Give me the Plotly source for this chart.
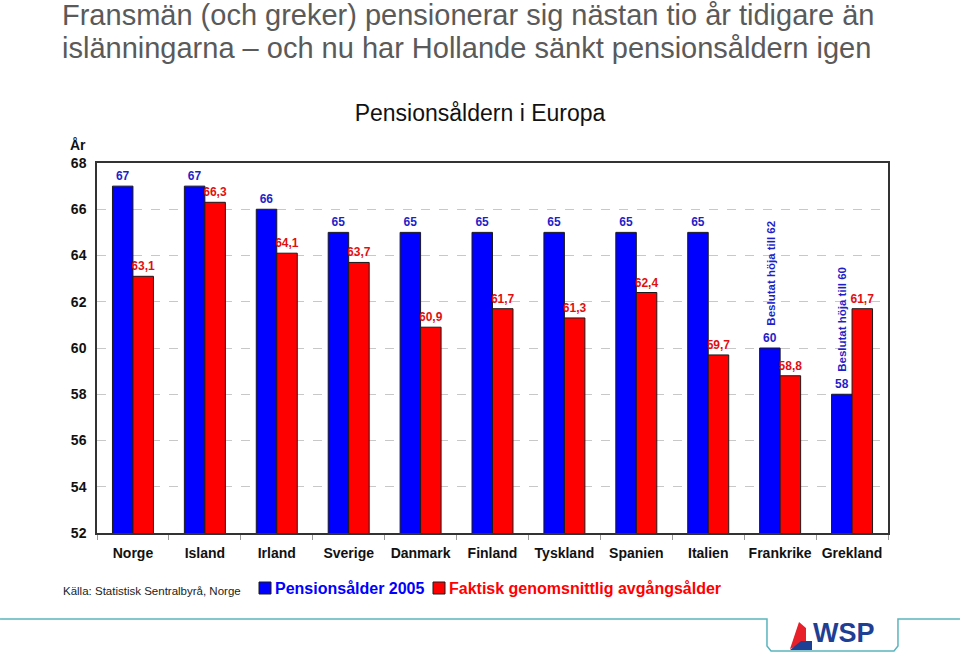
import plotly.graph_objects as go

countries = ["Norge", "Island", "Irland", "Sverige", "Danmark", "Finland",
             "Tyskland", "Spanien", "Italien", "Frankrike", "Grekland"]
pension_2005 = [67, 67, 66, 65, 65, 65, 65, 65, 65, 60, 58]
actual_exit = [63.1, 66.3, 64.1, 63.7, 60.9, 61.7, 61.3, 62.4, 59.7, 58.8, 61.7]
y_ticks = [52, 54, 56, 58, 60, 62, 64, 66, 68]
notes = {"Frankrike": ("Beslutat höja till 62", 60), "Grekland": ("Beslutat höja till 60", 58)}
heading_lines = ["Fransmän (och greker) pensionerar sig nästan tio år tidigare än",
                 "islänningarna – och nu har Hollande sänkt pensionsåldern igen"]
series_names = ["Pensionsålder 2005", "Faktisk genomsnittlig avgångsålder"]

def fmt(v):
    return (f"{v:g}").replace(".", ",")

BLUE = "#0000FF"
RED = "#FF0000"
LBL_BLUE = "#1f1fc8"
LBL_RED = "#e01010"
FONT = "Liberation Sans, Arial, sans-serif"

# plot area geometry in pixels (for placing paper-referenced decorations)
W, H = 960, 659
L, R, T, B = 97, 72, 163, 126
PW, PH = W - L - R, H - T - B

def px(xp):
    return (xp - L) / PW

def py(yp):
    return (H - B - yp) / PH

fig = go.Figure()
fig.add_trace(go.Bar(
    x=countries, y=pension_2005, name=series_names[0],
    marker=dict(color=BLUE, line=dict(color="#1a1a1a", width=1)),
    text=[fmt(v) for v in pension_2005], textposition="outside", constraintext="none",
    textfont=dict(color=LBL_BLUE, size=12, family=FONT, weight="bold"),
    cliponaxis=False,
))
fig.add_trace(go.Bar(
    x=countries, y=actual_exit, name=series_names[1],
    marker=dict(color=RED, line=dict(color="#1a1a1a", width=1)),
    text=[fmt(v) for v in actual_exit], textposition="outside", constraintext="none",
    textfont=dict(color=LBL_RED, size=12, family=FONT, weight="bold"),
    cliponaxis=False,
))

annotations = []
for c, (txt, v) in notes.items():
    annotations.append(dict(x=c, y=v, xref="x", yref="y", text=f"<b>{txt}</b>",
                            textangle=-90, showarrow=False, xshift=-10, yshift=20,
                            yanchor="bottom", xanchor="center",
                            font=dict(color=LBL_BLUE, size=11.5, family=FONT)))

for i, line in enumerate(heading_lines):
    annotations.append(dict(
        xref="paper", yref="paper", x=px(60), y=py(15 + 33 * i), xanchor="left",
        yanchor="middle", text=line, showarrow=False, align="left",
        font=dict(size=29, color="#5a5a5a", family=FONT)))
annotations.append(dict(
    xref="paper", yref="paper", x=px(88), y=py(145), xanchor="right", yanchor="middle",
    text="<b>År</b>", showarrow=False, font=dict(size=14, color="#111", family=FONT)))
annotations.append(dict(
    xref="paper", yref="paper", x=px(61), y=py(591), xanchor="left", yanchor="middle",
    text="Källa: Statistisk Sentralbyrå, Norge", showarrow=False,
    font=dict(size=11.5, color="#222", family=FONT)))
annotations.append(dict(
    xref="paper", yref="paper", x=px(811), y=py(633), xanchor="left", yanchor="middle",
    text="<b>WSP</b>", showarrow=False,
    font=dict(size=27, color="#1d3f94", family=FONT)))

# legend entries (square + coloured bold text)
legend_items = [(series_names[0], BLUE, 259), (series_names[1], RED, 433)]
shapes = []
for name, col, x0 in legend_items:
    shapes.append(dict(type="rect", xref="paper", yref="paper",
                       x0=px(x0), x1=px(x0 + 12), y0=py(594), y1=py(582),
                       fillcolor=col, line=dict(color="#1a1a1a", width=1)))
    annotations.append(dict(xref="paper", yref="paper", x=px(x0 + 14), y=py(588),
                            xanchor="left", yanchor="middle", text=f"<b>{name}</b>",
                            showarrow=False, font=dict(size=16, color=col, family=FONT)))

def pth(points, close=False):
    s = " ".join(("M" if i == 0 else "L") + f" {px(x):.4f},{py(y):.4f}"
                 for i, (x, y) in enumerate(points))
    return s + (" Z" if close else "")

shapes += [
    dict(type="path", xref="paper", yref="paper",
         path=pth([(0, 619), (767, 619), (767, 646), (771, 651), (894, 651),
                   (898, 646), (898, 619), (960, 619)]),
         line=dict(color="#5ab4bf", width=1.5)),
    dict(type="path", xref="paper", yref="paper",
         path=pth([(799, 622), (806, 628), (806, 642), (790, 649)], close=True),
         fillcolor="#e8202a", line=dict(width=0)),
    dict(type="path", xref="paper", yref="paper",
         path=pth([(790, 650), (801, 641), (812, 641), (812, 650)], close=True),
         fillcolor="#1d3f94", line=dict(width=0)),
]

fig.update_layout(
    width=W, height=H,
    margin=dict(l=L, r=R, t=T, b=B, autoexpand=False),
    paper_bgcolor="white", plot_bgcolor="white",
    barmode="group", bargap=0.43, bargroupgap=0,
    font=dict(family=FONT, color="#111"),
    title=dict(text="Pensionsåldern i Europa", x=0.5, xref="container",
               y=1 - 113 / H, yref="container", yanchor="middle", xanchor="center",
               font=dict(size=23, color="#111", family=FONT)),
    showlegend=False,
    annotations=annotations,
    shapes=shapes,
    xaxis=dict(type="category", showline=True, linecolor="#333", linewidth=1.5,
               mirror=True, ticks="outside", tickson="boundaries", ticklen=5,
               tickcolor="#999", showgrid=False, tickangle=0, automargin=False,
               tickfont=dict(size=14, family=FONT, color="#111", weight="bold"),
               ticklabelstandoff=6),
    yaxis=dict(range=[52, 68], tickvals=y_ticks, showline=True, linecolor="#333",
               linewidth=1.5, mirror=True, ticks="", showgrid=True, automargin=False,
               gridcolor="#c8c8c8", griddash="dash", gridwidth=1, zeroline=False,
               tickfont=dict(size=14, family=FONT, color="#111", weight="bold"),
               ticklabelstandoff=6),
)

fig.write_html("out.html", config={"displayModeBar": False},
               post_script="document.body.style.margin='0px';")
